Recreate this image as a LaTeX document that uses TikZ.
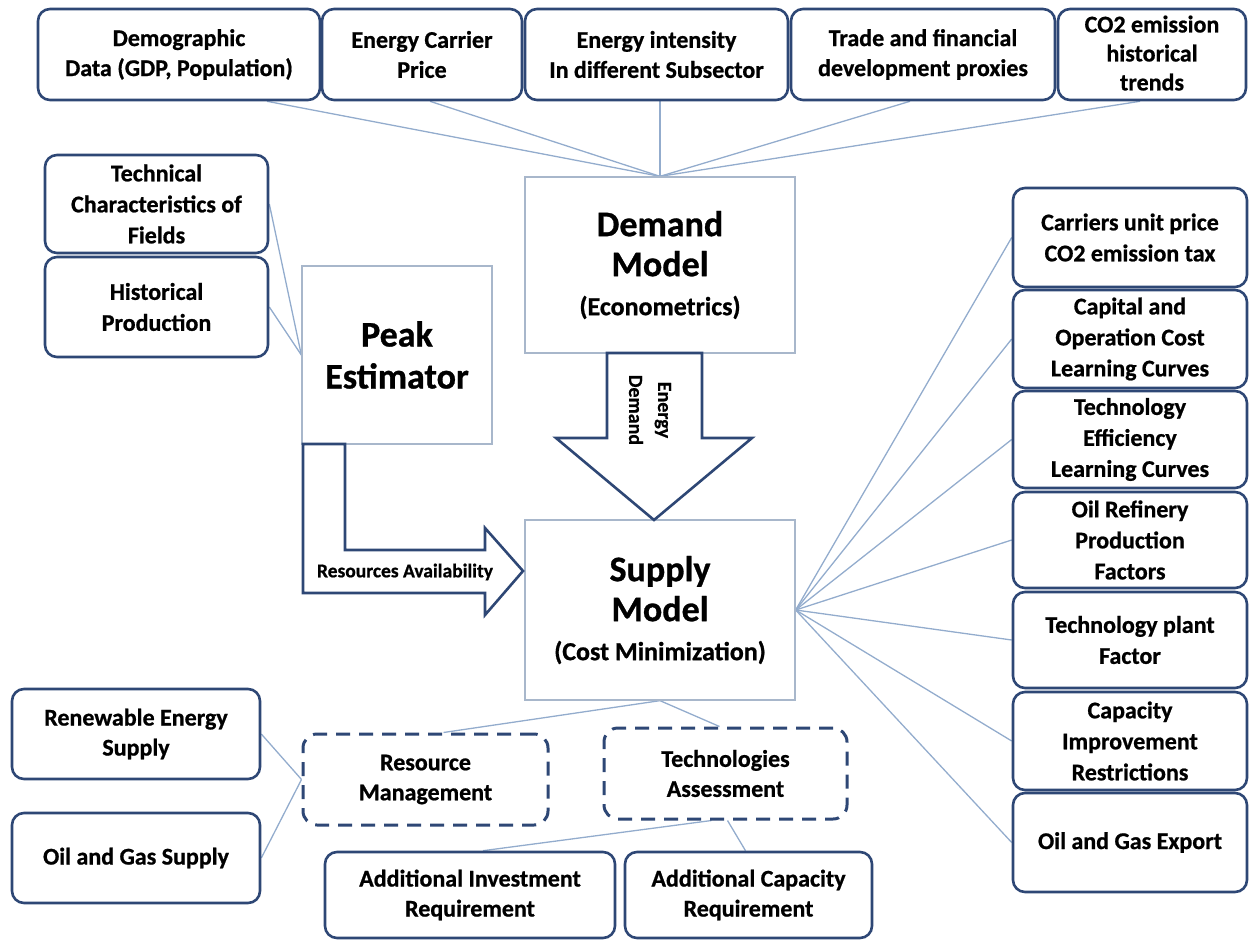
\documentclass[tikz,border=0pt]{standalone}
\usepackage{fontspec}
\setmainfont{Carlito}[BoldFeatures={FakeBold=0.8}]
\newfontfamily\plainfont{Carlito}[BoldFeatures={FakeBold=0.6}]
\usetikzlibrary{calc}
\definecolor{navy}{HTML}{2E4775}
\definecolor{linkc}{HTML}{93ACCD}
\definecolor{modelc}{HTML}{A8B7CB}
\pgfdeclarelayer{bg}
\pgfsetlayers{bg,main}
\begin{document}
\begin{tikzpicture}[x=1pt,y=-1pt,
  box/.style={draw=navy, line width=2.6pt, rounded corners=12pt, fill=white, align=center, inner sep=0pt,
    font=\bfseries\fontsize{24}{30}\selectfont},
  dbox/.style={box, line width=3pt, dash pattern=on 14pt off 9pt, rounded corners=14pt},
  model/.style={draw=modelc, line width=1.3pt, fill=white, align=center, inner sep=0pt,
    font=\bfseries\fontsize{36}{42}\selectfont},
  link/.style={draw=linkc, line width=1.3pt},
  bigarrow/.style={draw=navy, line width=2.6pt, fill=white, line join=miter}]
\useasboundingbox (0,0) rectangle (1249,941);

% top row
\node[box, minimum width=282pt, minimum height=91pt] (demo) at (179,54.5) {Demographic\\Data (GDP, Population)};
\node[box, minimum width=200pt, minimum height=91pt] (carrier) at (422,54.5) {Energy Carrier\\Price};
\node[box, minimum width=263pt, minimum height=91pt] (intens) at (656.5,54.5) {Energy intensity\\In different Subsector};
\node[box, minimum width=264pt, minimum height=91pt] (trade) at (923,54.5) {Trade and financial\\development proxies};
\node[box, minimum width=188pt, minimum height=91pt, font=\bfseries\fontsize{24}{29}\selectfont] (co2) at (1152,54.5) {\raisebox{3pt}{CO2 emission}\\\raisebox{3pt}{historical}\\\raisebox{3pt}{trends}};

% models
\node[model, minimum width=270pt, minimum height=176pt] (demand) at (660,265)
  {\raisebox{-5pt}{Demand}\\\raisebox{-3pt}{Model}\\{\fontsize{26}{30}\selectfont (Econometrics)}};
\node[model, minimum width=270pt, minimum height=180pt] (supply) at (660,610)
  {\raisebox{-5pt}{Supply}\\\raisebox{-3pt}{Model}\\{\fontsize{26}{30}\selectfont (Cost Minimization)}};
\node[model, minimum width=190pt, minimum height=178pt] (peak) at (397,355) {Peak\\Estimator};

% left inputs
\node[box, minimum width=223pt, minimum height=98pt, font=\bfseries\fontsize{24}{31}\selectfont] (tech) at (156.5,204) {Technical\\Characteristics of\\Fields};
\node[box, minimum width=223pt, minimum height=100pt, font=\bfseries\fontsize{24}{31}\selectfont] (hist) at (156.5,307) {Historical\\Production};

% right column
\tikzset{rbox/.style={box, minimum width=234pt, font=\bfseries\fontsize{24}{31}\selectfont}}
\node[rbox, minimum height=99pt] (carriers) at (1130,237.5) {Carriers unit price\\CO2 emission tax};
\node[rbox, minimum height=98pt] (capital) at (1130,339) {Capital and\\Operation Cost\\Learning Curves};
\node[rbox, minimum height=97pt] (techeff) at (1130,439.5) {Technology\\Efficiency\\Learning Curves};
\node[rbox, minimum height=96pt] (oilref) at (1130,540) {Oil Refinery\\Production\\Factors};
\node[rbox, minimum height=96pt] (plant) at (1130,640) {Technology plant\\Factor};
\node[rbox, minimum height=98pt] (capacity) at (1130,741) {Capacity\\Improvement\\Restrictions};
\node[rbox, minimum height=99pt] (export) at (1130,842.5) {Oil and Gas Export};

% bottom
\node[box, minimum width=248pt, minimum height=90pt] (renew) at (136,734) {Renewable Energy\\Supply};
\node[box, minimum width=248pt, minimum height=90pt] (oilgas) at (136,858) {Oil and Gas Supply};
\node[dbox, minimum width=245pt, minimum height=91pt] (rm) at (425.5,779.5) {Resource\\Management};
\node[dbox, minimum width=243pt, minimum height=91pt] (ta) at (725.5,773.5) {Technologies\\Assessment};
\node[box, minimum width=290pt, minimum height=86pt] (addinv) at (470,895) {Additional Investment\\Requirement};
\node[box, minimum width=247pt, minimum height=86pt] (addcap) at (748.5,895) {Additional Capacity\\Requirement};

% block arrows
\draw[bigarrow] (607,353) -- (607,438) -- (556,438) -- (654,520) -- (752,438) -- (702,438) -- (702,353) -- cycle;
\node[rotate=-90, align=center, inner sep=0pt, font=\plainfont\bfseries\fontsize{20}{29}\selectfont] (edtext) at (650,410) {Energy\\Demand};
\draw[bigarrow] (303,444) -- (303,593) -- (485,593) -- (485,615) -- (523,571) -- (485,528) -- (485,550) -- (345,550) -- (345,444) -- cycle;
\node[inner sep=0pt, font=\bfseries\fontsize{19.5}{20}\selectfont] (ratext) at (405,572) {Resources Availability};

% connectors
\begin{pgfonlayer}{bg}
\draw[link] ([xshift=88pt]demo.south) -- (demand.north);
\draw[link] ([xshift=8pt]carrier.south) -- (demand.north);
\draw[link] (demand.north |- intens.south) -- (demand.north);
\draw[link] ([xshift=-13pt]trade.south) -- (demand.north);
\draw[link] ([xshift=-12pt]co2.south) -- (demand.north);
\draw[link] (tech.east) -- (peak.west);
\draw[link] (hist.east) -- (peak.west);
\foreach \n in {carriers,capital,techeff,oilref,plant,capacity,export}
  \draw[link] (supply.east) -- (\n.west);
\draw[link] (supply.south) -- ([xshift=18pt]rm.north);
\draw[link] (supply.south) -- ([xshift=-6pt]ta.north);
\draw[link] (renew.east) -- (rm.west);
\draw[link] (oilgas.east) -- (rm.west);
\draw[link] ([xshift=-14pt]ta.south) -- ([xshift=13pt]addinv.north);
\draw[link] ([xshift=2pt]ta.south) -- ([xshift=-3pt]addcap.north);
\end{pgfonlayer}
\end{tikzpicture}
\end{document}
